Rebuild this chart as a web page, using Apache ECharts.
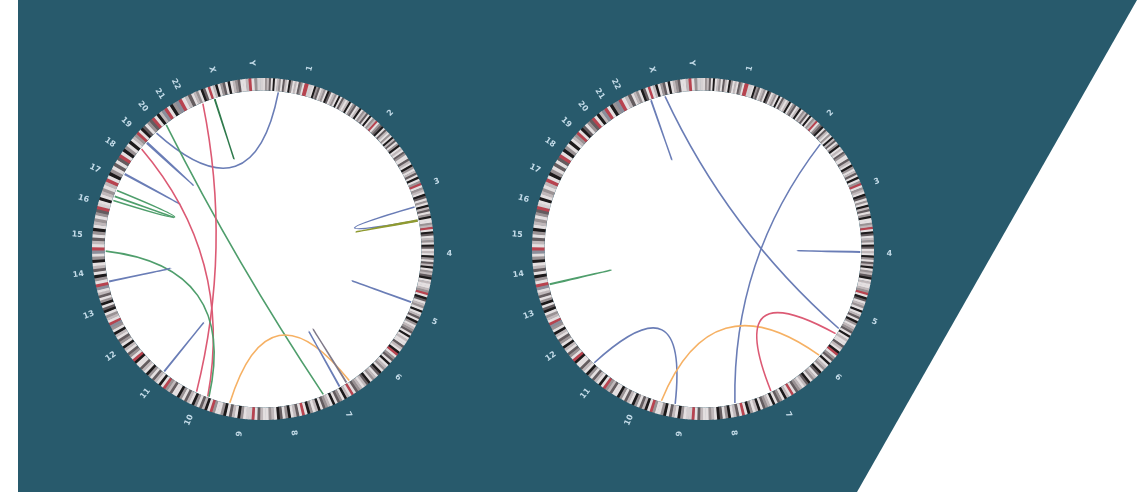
<!DOCTYPE html>
<html>
<head>
<meta charset="utf-8">
<script src="https://cdn.jsdelivr.net/npm/echarts@6/dist/echarts.min.js"></script>
<style>
  html, body { margin: 0; padding: 0; background: #fff; }
  #chart { width: 1137px; height: 494px; }
</style>
</head>
<body>
<div id="chart"></div>
<script>
// chromosomes (hg19, Mb)
var chromNames = ['1','2','3','4','5','6','7','8','9','10','11','12','13','14','15','16','17','18','19','20','21','22','X','Y'];
var chromSizes = [249,243,198,191,181,171,159,146,141,136,135,134,115,107,103,90,81,78,59,63,48,51,155,59];

// cytoband stains, equal width bands per chromosome
var bandStains = [
  'wgldwkwlgwdlwkgwlwdgwrrvvwkgdwlgwkdwlgwkwdl',
  'wlkwgdwlkwgldwkwglrwgdkwdlwgwkldwgkwlwdgw',
  'wdlwkgwldwkwgrwglwkdwgwkldwgkw',
  'wglrwkdwlgwkdwlwkgwdlkwgldkwlw',
  'wlgrwkdwlgwkwldwkgwlgdwkwlw',
  'wdlwkrwgdwkwlgwkdwlgwkdl',
  'wlgdwrwlkwgdwkwlgdwkl',
  'wgkwrwdlwkgwdkwlgw',
  'wldwrvvwgkwldwkgw',
  'wgrwkldwgkwldwgkw',
  'wdlgrwkwldwgkwldw',
  'wkrwgdwlkwgdwlkwg',
  'srwlgwkdwkgwdlw',
  'srwgkwdlwkgw',
  'srwldwgkwlg',
  'wgdrvwkwlg',
  'wlrwkgwd',
  'wdrwkgwk',
  'wlgrwkd',
  'wgdrwkl',
  'srwkg',
  'srwld',
  'wlgwkdwrwlkwgdwkwlgdw',
  'wlrwgvv'
];

// links: [chrA, posA, chrB, posB, colour]
var linksLeft = [
  ['1', 48, '20', 10, 'blue'],
  ['19', 25, '19', 28, 'blue'],
  ['17', 64, '17', 66, 'blue'],
  ['16', 65, '17', 8, 'green'],
  ['16', 78, '16', 79, 'green'],
  ['20', 50, '7', 120, 'green'],
  ['X', 60, 'X', 61, 'dkgreen'],
  ['X', 21, '10', 82, 'red'],
  ['19', 1, '10', 44, 'red'],
  ['15', 7, '10', 40, 'green'],
  ['14', 18, '14', 19, 'blue'],
  ['11', 65, '11', 66, 'blue'],
  ['9', 113, '7', 28, 'orange'],
  ['7', 63, '7', 64, 'blue'],
  ['7', 38, '7', 39, 'gray'],
  ['3', 148, '3', 192, 'blue'],
  ['3', 190, '3', 193, 'olive'],
  ['5', 61, '5', 62, 'blue']
];
var linksRight = [
  ['X', 48, 'X', 49, 'blue'],
  ['X', 94, '5', 153, 'blue'],
  ['2', 165, '8', 54, 'blue'],
  ['4', 92, '4', 93, 'blue'],
  ['14', 9, '14', 10, 'green'],
  ['11', 107, '9', 96, 'blue'],
  ['9', 140, '6', 76, 'orange'],
  ['7', 94, '5', 172, 'red']
];

var stainColors = { w: '#e4dfe0', l: '#c0b8ba', g: '#9a9294', d: '#645c5f', k: '#1d1a1b', r: '#b8434f', v: '#d5d0d2', s: '#8a8d9a' };
var linkColors = { blue: '#6a7db6', green: '#4f9e6c', dkgreen: '#2f7a4c', red: '#dc5a74', orange: '#f6b164', olive: '#8f9a30', gray: '#807a8a' };

var ringInner = 0.927, linkEnd = 0.92, bezierR = 0.18, labelR = 1.09;

var offsets = {}, total = 0;
chromNames.forEach(function (c, i) { offsets[c] = total; total += chromSizes[i]; });

var bandData = [];
chromNames.forEach(function (c, i) {
  var s = bandStains[i], w = chromSizes[i] / s.length;
  for (var j = 0; j < s.length; j++) {
    bandData.push([1, offsets[c] + j * w, offsets[c] + (j + 1) * w, s.charAt(j)]);
  }
});
var labelData = chromNames.map(function (c, i) { return [labelR, offsets[c] + chromSizes[i] / 2]; });

function dist(p, cs) { return Math.sqrt((p[0] - cs.cx) * (p[0] - cs.cx) + (p[1] - cs.cy) * (p[1] - cs.cy)); }
function screenAngle(p, cs) { return Math.atan2(p[1] - cs.cy, p[0] - cs.cx); }

function discSeries(pi) {
  return {
    type: 'custom', coordinateSystem: 'polar', polarIndex: pi, silent: true, z: 1,
    data: [[ringInner, 0]],
    renderItem: function (params, api) {
      var cs = params.coordSys;
      var r = dist(api.coord([api.value(0), api.value(1)]), cs);
      return { type: 'circle', shape: { cx: cs.cx, cy: cs.cy, r: r }, style: { fill: '#ffffff' } };
    }
  };
}

function bandSeries(pi) {
  return {
    type: 'custom', coordinateSystem: 'polar', polarIndex: pi, silent: true, z: 2,
    data: bandData.map(function (b) { return [b[0], b[1], b[2]]; }),
    renderItem: function (params, api) {
      var cs = params.coordSys;
      var b = bandData[params.dataIndex];
      var a0 = screenAngle(api.coord([1, b[1]]), cs);
      var a1 = screenAngle(api.coord([1, b[2]]), cs);
      if (a1 <= a0) a1 += Math.PI * 2;
      var r = dist(api.coord([1, b[1]]), cs);
      var r0 = dist(api.coord([ringInner, b[1]]), cs);
      return {
        type: 'sector',
        shape: { cx: cs.cx, cy: cs.cy, r0: r0, r: r, startAngle: a0, endAngle: a1 + 0.003, clockwise: true },
        style: { fill: stainColors[b[3]] }
      };
    }
  };
}

function labelSeries(pi) {
  return {
    type: 'custom', coordinateSystem: 'polar', polarIndex: pi, silent: true, z: 3,
    data: labelData,
    renderItem: function (params, api) {
      var cs = params.coordSys;
      var p = api.coord([api.value(0), api.value(1)]);
      var ang = screenAngle(p, cs);
      var rot = -ang;
      if (Math.cos(ang) < -0.01) rot += Math.PI;
      return {
        type: 'text', x: p[0], y: p[1], rotation: rot,
        style: {
          text: chromNames[params.dataIndex], fill: '#c3dbe8',
          font: 'bold 8px "DejaVu Sans", sans-serif', align: 'center', verticalAlign: 'middle'
        }
      };
    }
  };
}

function linkSeries(links, pi) {
  var data = links.map(function (l) {
    var g1 = offsets[l[0]] + l[1], g2 = offsets[l[2]] + l[3];
    var mid = Math.abs(g2 - g1) <= total / 2 ? (g1 + g2) / 2 : ((g1 + g2 + total) / 2) % total;
    return [linkEnd, g1, g2, mid];
  });
  return {
    type: 'custom', coordinateSystem: 'polar', polarIndex: pi, silent: true, z: 4,
    data: data,
    renderItem: function (params, api) {
      var p1 = api.coord([api.value(0), api.value(1)]);
      var p2 = api.coord([api.value(0), api.value(2)]);
      var c = api.coord([bezierR, api.value(3)]);
      return {
        type: 'bezierCurve',
        shape: { x1: p1[0], y1: p1[1], x2: p2[0], y2: p2[1], cpx1: c[0], cpy1: c[1] },
        style: { stroke: linkColors[links[params.dataIndex][4]], lineWidth: 1.6, fill: null }
      };
    }
  };
}

var myChart = echarts.init(document.getElementById('chart'), null, { renderer: 'canvas' });
var options = {
  animation: false,
  graphic: [{
    type: 'polygon', z: 0, silent: true,
    shape: { points: [[18, 0], [1137, 0], [857, 492], [18, 492]] },
    style: { fill: '#285a6c' }
  }],
  polar: [
    { center: [263, 249], radius: 171 },
    { center: [703, 249], radius: 171 }
  ],
  angleAxis: [
    { polarIndex: 0, type: 'value', min: 0, max: total, startAngle: 90, clockwise: true, show: false },
    { polarIndex: 1, type: 'value', min: 0, max: total, startAngle: 90, clockwise: true, show: false }
  ],
  radiusAxis: [
    { polarIndex: 0, type: 'value', min: 0, max: 1, show: false },
    { polarIndex: 1, type: 'value', min: 0, max: 1, show: false }
  ],
  series: [
    discSeries(0), bandSeries(0), labelSeries(0), linkSeries(linksLeft, 0),
    discSeries(1), bandSeries(1), labelSeries(1), linkSeries(linksRight, 1)
  ]
};
myChart.setOption(options);
</script>
</body>
</html>
